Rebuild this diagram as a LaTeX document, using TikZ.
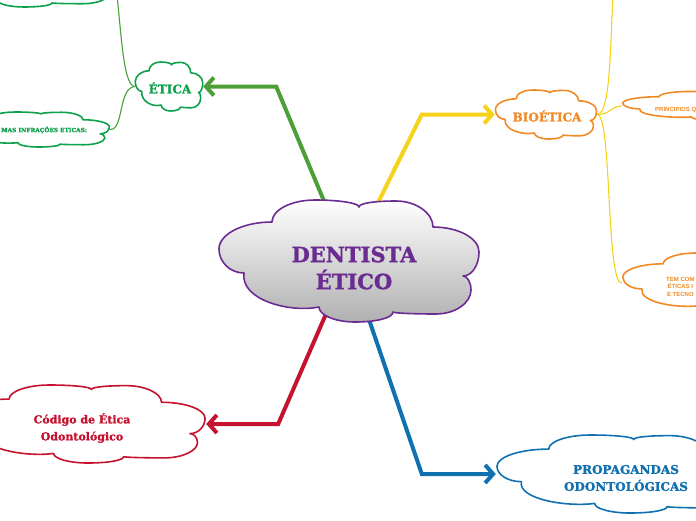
\documentclass[tikz,border=0pt]{standalone}
\usepackage{fontspec}
\setmainfont{DejaVu Serif}
\newfontfamily\slab[FakeBold=1.3]{DejaVu Serif}
\newfontfamily\sansf{Liberation Sans}
\usetikzlibrary{arrows.meta}
\pgfdeclarelayer{background}
\pgfsetlayers{background,main}
\definecolor{cpurple}{HTML}{6A2C91}
\definecolor{cgreen}{HTML}{0DA14B}
\definecolor{cgreenarrow}{HTML}{4C9F38}
\definecolor{corange}{HTML}{F18A25}
\definecolor{cyellow}{HTML}{F6D21B}
\definecolor{cred}{HTML}{C4122F}
\definecolor{cblue}{HTML}{1170B0}
\tikzset{
  cloudline/.style={draw, fill=white, line width=1.6pt, line join=round},
  mainconn/.style={line width=4pt, arrows={-Straight Barb[length=8pt,width=18pt]}, line join=miter},
  subconn/.style={line width=1.1pt},
  heading/.style={font=\slab\bfseries\fontsize{12}{17}\selectfont, align=center},
  small/.style={font=\sansf\bfseries\fontsize{6}{7.5}\selectfont},
  box/.style={minimum width=#1, inner sep=0pt, draw=none},
}
% cloud outline: #1 centre node, #2 width, #3 height, #4 style
\newcommand\cloudat[4]{%
\path[#4, shift={(#1)}, xscale=#2/262, yscale=#3/122]
 (-77,-39) .. controls +(0,-12) and +(-24,0) .. (-34,-61)
 .. controls +(24,0) and +(0,-4) .. (10,-54)
 .. controls +(0,-4) and +(-20,0) .. (47,-60)
 .. controls +(20,0) and +(0,-14) .. (84,-34)
 .. controls +(25,0) and +(0,-14) .. (130,-9)
 .. controls +(0,13) and +(9,0) .. (114,15)
 .. controls +(4,0) and +(0,-8) .. (122,29)
 .. controls +(0,13) and +(19,0) .. (87,53)
 .. controls +(-24,0) and +(0,1) .. (44,51)
 .. controls +(0,6) and +(21,0) .. (6,61)
 .. controls +(-20,0) and +(0,8) .. (-30,46)
 .. controls +(-29,6) and +(-4,27) .. (-105,12)
 .. controls +(-14,0) and +(0,13) .. (-130,-12)
 .. controls +(0,-15) and +(-29,0) .. (-77,-39) -- cycle;}
\begin{document}
\begin{tikzpicture}[x=1pt,y=-1pt]
\useasboundingbox (0,0) rectangle (696,520);
\clip (0,0) rectangle (696,520);
% boxes (named, invisible)
\node[box=262pt, minimum height=122pt] (c) at (349,261) {};
\node[box=68pt, minimum height=49pt] (etica) at (169,86.5) {};
\node[box=102pt, minimum height=49pt] (bio) at (546,114.5) {};
\node[box=248pt, minimum height=78pt] (cod) at (82,424) {};
\node[box=256pt, minimum height=78pt] (prop) at (624,474) {};
\node[box=190pt, minimum height=50pt] (tl) at (20,-18) {};
\node[box=150pt, minimum height=35pt] (inf) at (35,129.5) {};
\node[box=180pt, minimum height=29pt] (pr) at (712,106) {};
\node[box=200pt, minimum height=60pt] (tem) at (722,283) {};
% clouds
\cloudat{c}{262}{122}{cloudline, draw=cpurple, top color=white, bottom color=black!31}
\cloudat{etica}{68}{49}{cloudline, draw=cgreen}
\cloudat{bio}{102}{49}{cloudline, draw=corange}
\cloudat{cod}{248}{78}{cloudline, draw=cred}
\cloudat{prop}{256}{78}{cloudline, draw=cblue}
\cloudat{tl}{190}{50}{cloudline, draw=cgreen}
\cloudat{inf}{150}{35}{cloudline, draw=cgreen}
\cloudat{pr}{180}{29}{cloudline, draw=corange}
\cloudat{tem}{200}{60}{cloudline, draw=corange}
% texts
\node[font=\slab\bfseries\fontsize{21}{27}\selectfont, text=cpurple, align=center] (ct) at (354,268) {DENTISTA\\ÉTICO};
\node[heading, text=cgreen] (et) at (170,88) {ÉTICA};
\node[heading, text=corange] (bt) at (547,116) {BIOÉTICA};
\node[heading, text=cred, font=\slab\bfseries\fontsize{11}{17}\selectfont] (codt) at (82,428) {Código de Ética\\Odontológico};
\node[heading, text=cblue] (propt) at (626,478) {PROPAGANDAS\\ODONTOLÓGICAS};
\node[font=\slab\bfseries\fontsize{5.8}{7}\selectfont, text=cgreen, anchor=west, inner sep=0pt] (inft) at (1,130) {MAS INFRAÇÕES ETICAS:};
\node[small, text=corange, anchor=west, inner sep=0pt] (prt) at (655,110) {PRINCIPIOS Q};
\node[small, text=corange, align=center, anchor=north west, inner sep=0pt] (temt) at (666,277) {TEM COM\\ÉTICAS I\\E TECNO};
\coordinate (bup) at (614,-20);
\begin{pgfonlayer}{background}
\draw[mainconn, draw=cgreenarrow] (c.center) -- ([xshift=73pt]etica.east) -- (etica.east);
\draw[mainconn, draw=cyellow] (c.center) -- ([xshift=-73pt]bio.west) -- (bio.west);
\draw[mainconn, draw=cred] (c.center) -- ([xshift=72pt]cod.east) -- (cod.east);
\draw[mainconn, draw=cblue] (c.center) -- ([xshift=-74pt]prop.west) -- (prop.west);
\draw[subconn, draw=cgreenarrow] (etica.west) .. controls (122,86) and (121,20) .. (tl.east);
\draw[subconn, draw=cgreenarrow] (etica.west) .. controls (118,88) and (124,130) .. (inf.east);
\draw[subconn, draw=cyellow] (bio.east) .. controls (612,114) and (610,30) .. (bup);
\draw[subconn, draw=cyellow] (bio.east) .. controls (612,114) and (608,107) .. (pr.west);
\draw[subconn, draw=cyellow] (bio.east) .. controls (612,114) and (606,285) .. (tem.west);
\end{pgfonlayer}
\end{tikzpicture}
\end{document}
